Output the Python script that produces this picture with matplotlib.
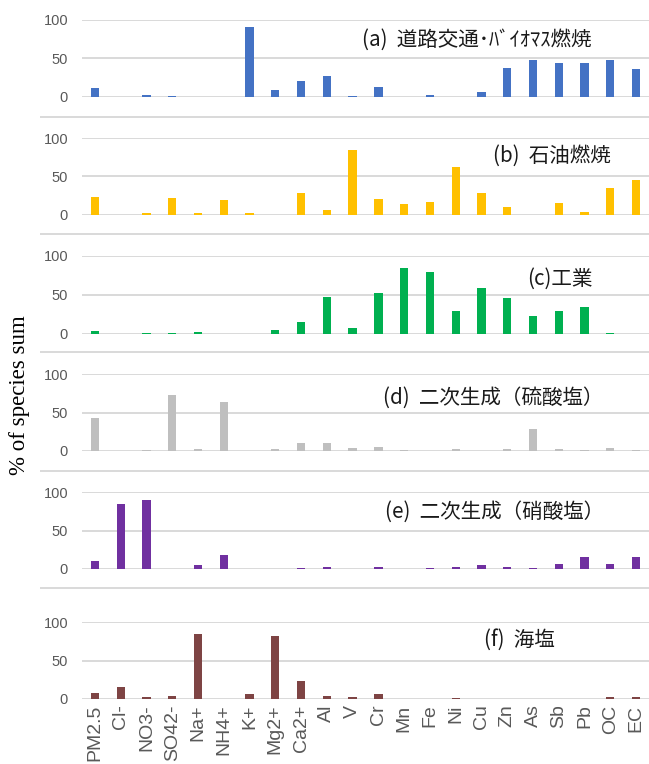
import numpy as np
import matplotlib.pyplot as plt
from matplotlib.lines import Line2D

species = ["PM2.5", "Cl-", "NO3-", "SO42-", "Na+", "NH4+", "K+", "Mg2+", "Ca2+", "Al", "V",
           "Cr", "Mn", "Fe", "Ni", "Cu", "Zn", "As", "Sb", "Pb", "OC", "EC"]

road_biomass = [12, 0, 3, 1, 0, 0, 90, 9, 21, 27, 1, 13, 0, 2, 0, 7, 38, 48, 44, 44, 48, 36]
oil = [23, 0, 2, 22, 3, 20, 2, 0, 29, 7, 84, 21, 14, 17, 62, 28, 10, 0, 15, 4, 35, 46]
industry = [4, 0, 1, 1, 3, 0, 0, 5, 15, 47, 8, 53, 85, 80, 30, 59, 46, 23, 30, 34, 1, 0]
sulfate = [43, 0, 1, 73, 3, 63, 0, 3, 10, 11, 4, 5, 1, 0, 2, 0, 3, 29, 3, 1, 4, 1]
nitrate = [11, 84, 89, 0, 5, 18, 0, 0, 1, 3, 0, 2, 0, 1, 2, 5, 3, 1, 6, 15, 7, 15]
sea_salt = [8, 15, 3, 4, 85, 0, 7, 82, 23, 4, 3, 6, 0, 0, 1, 0, 0, 0, 0, 0, 3, 3]

factors = [road_biomass, oil, industry, sulfate, nitrate, sea_salt]
titles = ["(a)  道路交通･ﾊﾞｲｵﾏｽ燃焼", "(b)  石油燃焼", "(c)工業",
          "(d)  二次生成（硫酸塩）", "(e)  二次生成（硝酸塩）", "(f)  海塩"]
colors = ["#4472C4", "#FFC000", "#00B050", "#BFBFBF", "#7030A0", "#7E4444"]

W, H = 649, 764
# pixel rows of the 100 and 0 gridlines for each panel
rows = [(19.5, 97), (138, 215), (256, 334), (374, 451), (492, 569), (622, 699)]
title_pos = [(0.494, 0.735), (0.725, 0.766), (0.785, 0.705),
             (0.531, 0.688), (0.534, 0.74), (0.709, 0.766)]
seps = [117, 234, 352, 471, 588]

cjk = ["Noto Sans CJK JP", "DejaVu Sans"]

fig = plt.figure(figsize=(W / 100, H / 100), dpi=100)
left = 82 / W
x = np.arange(len(species))

for i, vals in enumerate(factors):
    top, bot = rows[i]
    ax = fig.add_axes([left, 1 - bot / H, 1 - left, (bot - top) / H])
    ax.bar(x, vals, width=0.32, color=colors[i], zorder=3)
    ax.set_xlim(-0.5, len(species) - 0.5)
    ax.set_ylim(0, 100)
    ax.set_yticks([0, 50, 100])
    ax.yaxis.grid(True, color="#D9D9D9", lw=1.4)
    ax.set_axisbelow(True)
    for s in ax.spines.values():
        s.set_visible(False)
    ax.tick_params(length=0, labelcolor="#595959", labelsize=10.5, pad=10)
    for t in ax.get_yticklabels():
        t.set_family("Liberation Sans")
    if i == len(factors) - 1:
        ax.set_xticks(x, species, rotation=90, fontsize=14, family="Liberation Sans")
        ax.tick_params(axis="x", pad=4)
    else:
        ax.set_xticks([])
    tx, ty = title_pos[i]
    ax.text(tx, ty, titles[i], transform=ax.transAxes, fontsize=14.8, family=cjk,
            ha="left", va="center", color="#1a1a1a", zorder=5)

for yy in seps:
    fig.add_artist(Line2D([41 / W, 1], [1 - yy / H] * 2, color="#D9D9D9", lw=1.4))

fig.text(20 / W, 1 - 395 / H, "% of species sum", rotation=90, family="Liberation Serif",
         fontsize=16.5, ha="center", va="center")

fig.savefig("out.png", dpi=100)
